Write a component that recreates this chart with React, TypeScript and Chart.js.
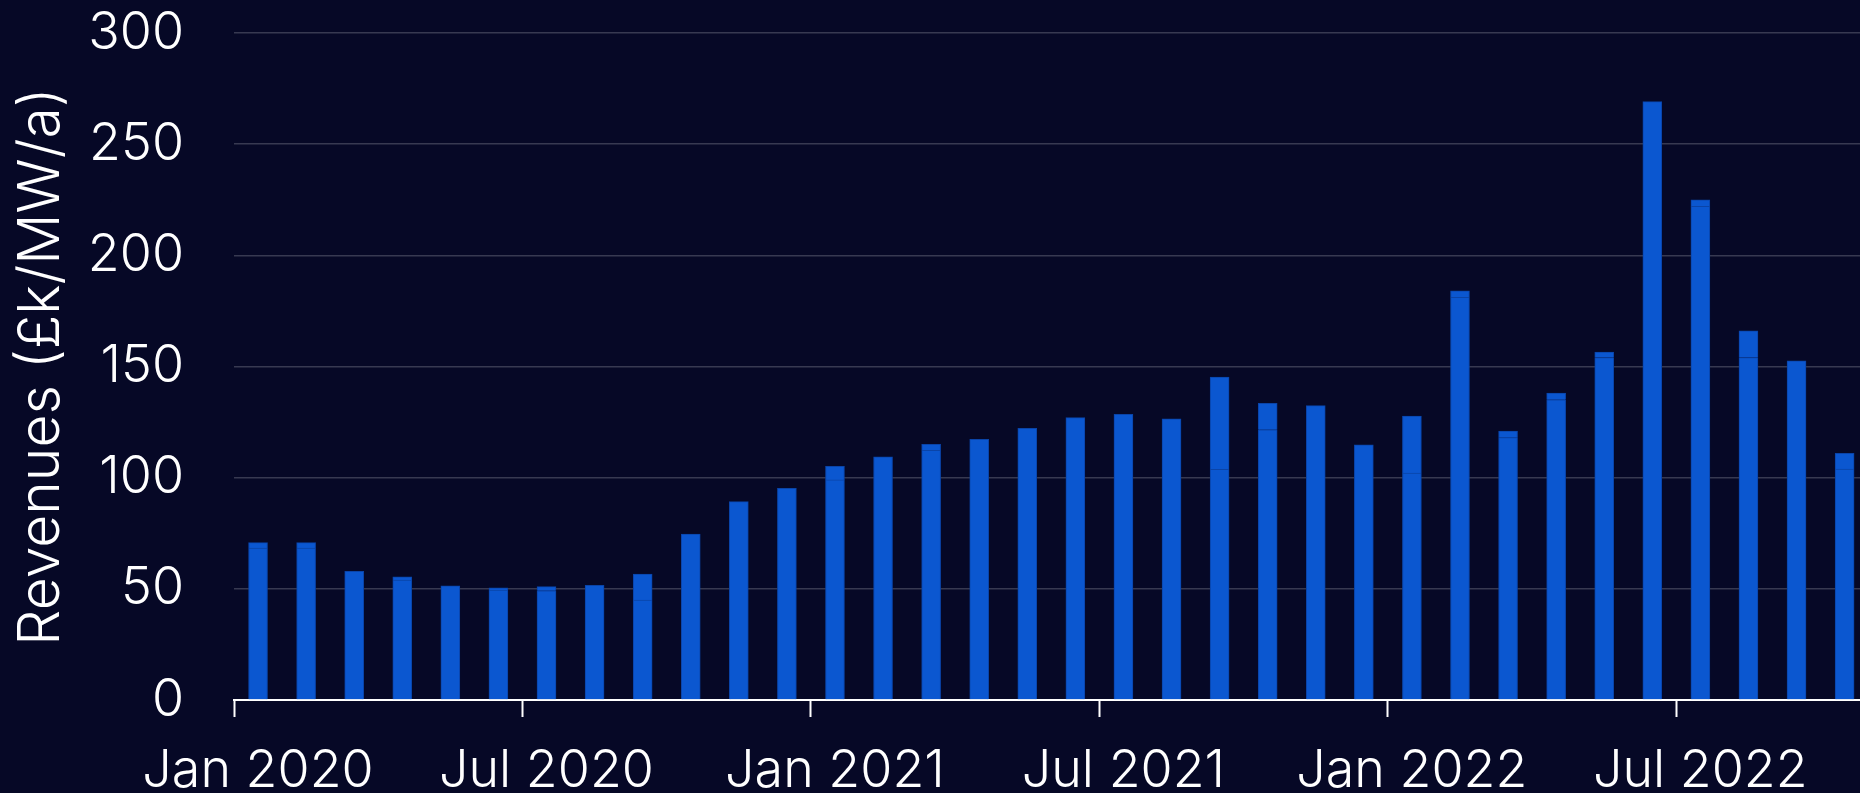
import React, { useEffect, useRef } from 'react';
import { Chart, registerables } from 'chart.js';

Chart.register(...registerables);

// Monthly categories (Jan 2020 – Oct 2022)
const months = [
  'Jan 2020', 'Feb 2020', 'Mar 2020', 'Apr 2020', 'May 2020', 'Jun 2020',
  'Jul 2020', 'Aug 2020', 'Sep 2020', 'Oct 2020', 'Nov 2020', 'Dec 2020',
  'Jan 2021', 'Feb 2021', 'Mar 2021', 'Apr 2021', 'May 2021', 'Jun 2021',
  'Jul 2021', 'Aug 2021', 'Sep 2021', 'Oct 2021', 'Nov 2021', 'Dec 2021',
  'Jan 2022', 'Feb 2022', 'Mar 2022', 'Apr 2022', 'May 2022', 'Jun 2022',
  'Jul 2022', 'Aug 2022', 'Sep 2022', 'Oct 2022',
];

// Lower stacked segment (£k/MW/a)
const baseSegment = [
  68.3, 68.3, 57.9, 53.9, 51.3, 49.4, 49.1, 51.6, 44.9, 74.6, 89.2, 95.2,
  99.0, 109.4, 112.3, 117.2, 122.2, 127.0, 128.5, 126.5, 103.8, 121.5, 132.4, 114.8,
  102.1, 181.1, 118.0, 135.0, 154.0, 269.1, 222.0, 154.0, 152.5, 103.9,
];

// Upper stacked segment (£k/MW/a)
const topSegment = [
  2.5, 2.5, 0, 1.5, 0, 1.0, 1.9, 0, 11.7, 0, 0, 0,
  6.1, 0, 2.7, 0, 0, 0, 0, 0, 41.4, 11.9, 0, 0,
  25.6, 2.9, 3.0, 3.1, 2.5, 0, 3.0, 12.0, 0, 7.1,
];

// X tick positions (month index of boundary) and labels
const tickMonths = [0, 6, 12, 18, 24, 30];
const tickLabels = ['Jan 2020', 'Jul 2020', 'Jan 2021', 'Jul 2021', 'Jan 2022', 'Jul 2022'];

// Y ticks
const yTicks = [0, 50, 100, 150, 200, 250, 300];

const FONT = { family: 'Inter, "Noto Sans", sans-serif', size: 52, weight: 300 as any };
const TITLE_FONT = { family: 'Inter, "Noto Sans", sans-serif', size: 57, weight: 300 as any };

export default function App() {
  const canvasRef = useRef<HTMLCanvasElement | null>(null);

  useEffect(() => {
    document.body.style.margin = '0';
    const canvas = canvasRef.current;
    if (!canvas) return;

    const toPoints = (arr: number[]) => arr.map((v, i) => ({ x: i + 0.5, y: v }));

    const chart = new Chart(canvas, {
      type: 'bar',
      data: {
        labels: months,
        datasets: [
          {
            label: 'Base',
            data: toPoints(baseSegment) as any,
            backgroundColor: '#0b57d0',
            borderColor: '#0a44a8',
            borderWidth: 1,
            barThickness: 19,
          },
          {
            label: 'Top',
            data: toPoints(topSegment) as any,
            backgroundColor: '#0b57d0',
            borderColor: '#0a44a8',
            borderWidth: 1,
            barThickness: 19,
          },
        ],
      },
      options: {
        responsive: true,
        maintainAspectRatio: false,
        animation: false,
        layout: { padding: { top: 33, left: 0, right: 0, bottom: 0 } },
        plugins: {
          legend: { display: false },
          tooltip: { enabled: false },
        },
        scales: {
          x: {
            type: 'linear',
            stacked: true,
            min: 0,
            max: 33.82,
            offset: false,
            afterBuildTicks: (s: any) => {
              s.ticks = tickMonths.map((v) => ({ value: v }));
            },
            afterFit: (s: any) => {
              s.height = 93;
            },
            grid: {
              offset: false,
              drawOnChartArea: false,
              drawTicks: true,
              tickLength: 17,
              tickColor: '#ffffff',
              tickWidth: 2,
            },
            border: { display: true, color: '#ffffff', width: 2 },
            ticks: {
              autoSkip: false,
              maxRotation: 0,
              minRotation: 0,
              labelOffset: 24,
              padding: 23,
              color: '#ffffff',
              font: FONT,
              callback: (_v: any, i: number) => tickLabels[i],
            },
          },
          y: {
            stacked: true,
            min: 0,
            max: 300,
            afterBuildTicks: (s: any) => {
              s.ticks = yTicks.map((v) => ({ value: v }));
            },
            afterFit: (s: any) => {
              s.width = 234;
            },
            grid: {
              color: 'rgba(255,255,255,0.2)',
              lineWidth: 1.5,
              drawTicks: true,
              tickLength: 50,
              tickColor: 'rgba(0,0,0,0)',
            },
            border: { display: false },
            ticks: {
              padding: 0,
              color: '#ffffff',
              font: FONT,
            },
            title: {
              display: true,
              text: 'Revenues (£k/MW/a)',
              color: '#ffffff',
              font: TITLE_FONT,
              padding: { top: 8, bottom: 0 },
            },
          },
        },
      },
    });

    return () => chart.destroy();
  }, []);

  return (
    <div
      style={{
        position: 'fixed',
        left: 0,
        top: 0,
        width: '100vw',
        height: '100vh',
        background: '#060826',
      }}
    >
      <canvas ref={canvasRef} />
    </div>
  );
}
